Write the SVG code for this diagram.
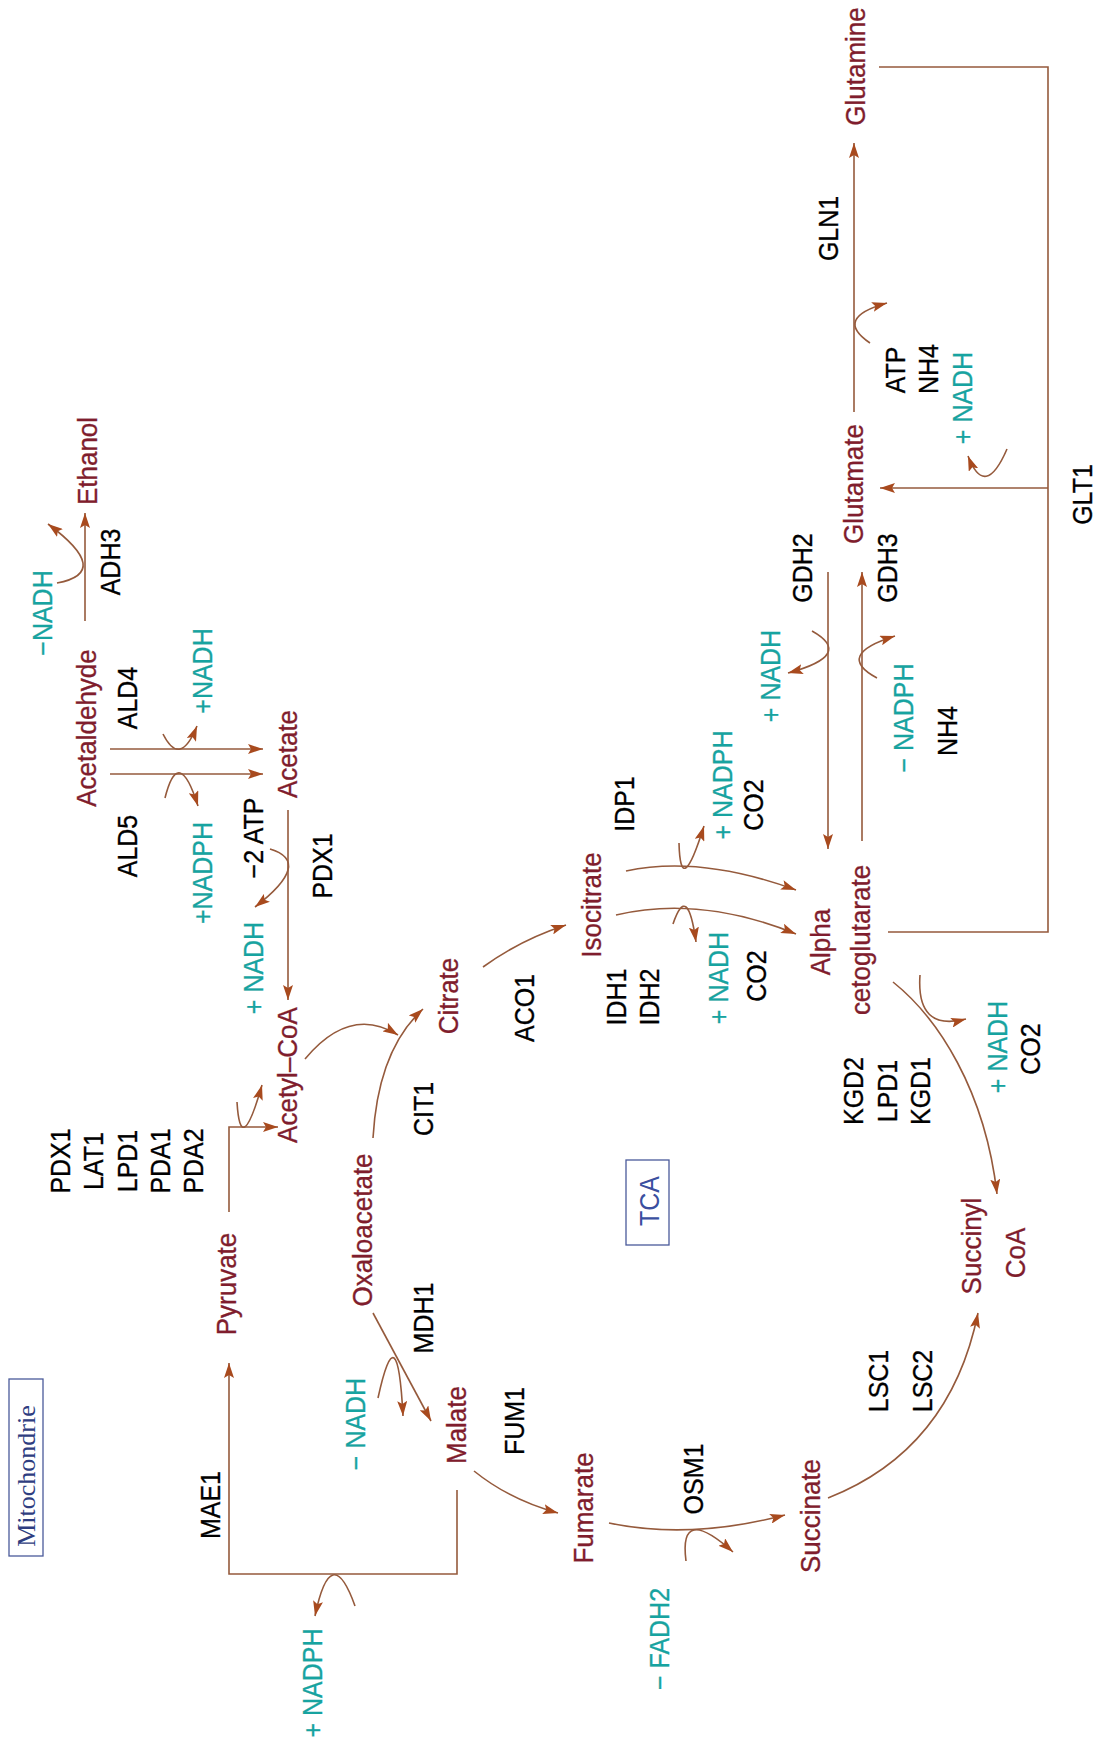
<svg xmlns="http://www.w3.org/2000/svg" width="1096" height="1744" viewBox="0 0 1096 1744">
<defs>
<style>
text{font-family:"Liberation Sans",Arial,sans-serif;text-anchor:middle}
.m{font-size:26px;fill:#7f1d2d;stroke:#7f1d2d;stroke-width:0.3}
.e{font-size:25px;fill:#000;stroke:#000;stroke-width:0.3}
.c{font-size:25px;fill:#17a3a0;stroke:#17a3a0;stroke-width:0.3}
.lbl{font-size:25px;fill:#3a4f9f}
.mito{font-family:"Liberation Serif","Times New Roman",serif;font-size:26px;fill:#2e3d80}
.box{fill:none;stroke:#4a5a9a;stroke-width:1.3}
.ln{fill:none;stroke:#955a3c;stroke-width:1.6}
.ar{fill:none;stroke:#955a3c;stroke-width:1.6;marker-end:url(#ah)}
</style>
<marker id="ah" markerUnits="userSpaceOnUse" markerWidth="16" markerHeight="10" refX="15" refY="5" orient="auto">
<path d="M0,0 L15,5 L0,10 L3,5 z" fill="#a84a1e"/>
</marker>
</defs>
<rect width="1096" height="1744" fill="#fff"/>

<g id="connectors">
<path class="ar" d="M854,412 V143"/>
<path class="ar" d="M870,343 Q833,318 887,303"/>
<path class="ln" d="M879,67 H1048 V932 H888"/>
<path class="ar" d="M1048,488 H880"/>
<path class="ar" d="M1007,449 Q985,500 968,456"/>
<path class="ar" d="M828,572 V849"/>
<path class="ar" d="M862,841 V572"/>
<path class="ar" d="M812,631 Q855,655 788,673"/>
<path class="ar" d="M877,678 Q834,655 895,636"/>
<path class="ar" d="M626,871 Q700,855 796,890"/>
<path class="ar" d="M679,843 Q680.5,901 704,826"/>
<path class="ar" d="M616,915 Q700,895 796,934"/>
<path class="ar" d="M673,924 Q687.5,881 696,942"/>
<path class="ar" d="M483,967 Q520,940 566,925"/>
<path class="ar" d="M373,1138 Q378,1050 423,1009"/>
<path class="ar" d="M305,1059 Q350,1005 398,1035"/>
<path class="ar" d="M288,810 V1000"/>
<path class="ar" d="M270,849 Q313.5,862 255,907"/>
<path class="ar" d="M110,749 H263"/>
<path class="ar" d="M110,774 H263"/>
<path class="ar" d="M163,734 Q180,768 197,726"/>
<path class="ar" d="M165,798 Q178.5,744 198,806"/>
<path class="ar" d="M85,621 V513"/>
<path class="ar" d="M57,583 Q113.5,572.5 48,524"/>
<path class="ar" d="M229,1212 V1127 H278"/>
<path class="ar" d="M237,1102 Q240.5,1160 262,1085"/>
<path class="ar" d="M457,1490 V1574 H229 V1363"/>
<path class="ar" d="M355,1606 Q331,1539 315,1616"/>
<path class="ar" d="M373,1313 L431,1421"/>
<path class="ar" d="M378,1398 Q397.5,1309 403,1416"/>
<path class="ar" d="M474,1471 Q510,1500 558,1513"/>
<path class="ar" d="M609,1523 Q690,1540 785,1515"/>
<path class="ar" d="M686,1561 Q678.5,1503.5 733,1552"/>
<path class="ar" d="M828,1498 Q950,1450 978,1313"/>
<path class="ar" d="M893,982 C938,1018 985,1090 997,1194"/>
<path class="ar" d="M920,975 Q916,1032 966,1019"/>
</g>

<g id="mitochondrie"><rect class="box" x="9" y="1379" width="34" height="177"/><text class="mito" transform="translate(35,1476) rotate(-90)">Mitochondrie</text></g>
<g id="tca"><rect class="box" x="626" y="1160" width="43" height="85"/><text class="lbl" transform="translate(659,1201) rotate(-90) scale(1,1.08)">TCA</text></g>

<g id="glutamine"><text class="m" transform="translate(865,66.5) rotate(-90) scale(1,1.08)">Glutamine</text></g>
<g id="glutamate"><text class="m" transform="translate(863,484) rotate(-90) scale(1,1.08)">Glutamate</text></g>
<g id="alpha"><text class="m" transform="translate(830,942) rotate(-90) scale(1,1.08)">Alpha</text><text class="m" transform="translate(870,940) rotate(-90) scale(1,1.08)">cetoglutarate</text></g>
<g id="isocitrate"><text class="m" transform="translate(601,905) rotate(-90) scale(1,1.08)">Isocitrate</text></g>
<g id="citrate"><text class="m" transform="translate(458,996) rotate(-90) scale(1,1.08)">Citrate</text></g>
<g id="acetylcoa"><text class="m" transform="translate(297,1075) rotate(-90) scale(1,1.08)">Acetyl–CoA</text></g>
<g id="acetate"><text class="m" transform="translate(297,754) rotate(-90) scale(1,1.08)">Acetate</text></g>
<g id="acetaldehyde"><text class="m" transform="translate(96,728) rotate(-90) scale(1,1.08)">Acetaldehyde</text></g>
<g id="ethanol"><text class="m" transform="translate(97,461) rotate(-90) scale(1,1.08)">Ethanol</text></g>
<g id="pyruvate"><text class="m" transform="translate(236,1284) rotate(-90) scale(1,1.08)">Pyruvate</text></g>
<g id="oxaloacetate"><text class="m" transform="translate(372,1230) rotate(-90) scale(1,1.08)">Oxaloacetate</text></g>
<g id="malate"><text class="m" transform="translate(466,1425) rotate(-90) scale(1,1.08)">Malate</text></g>
<g id="fumarate"><text class="m" transform="translate(593,1508) rotate(-90) scale(1,1.08)">Fumarate</text></g>
<g id="succinate"><text class="m" transform="translate(820,1516) rotate(-90) scale(1,1.08)">Succinate</text></g>
<g id="succinylcoa"><text class="m" transform="translate(981,1246) rotate(-90) scale(1,1.08)">Succinyl</text><text class="m" transform="translate(1025,1253) rotate(-90) scale(1,1.08)">CoA</text></g>

<g id="enzymes">
<text class="e" transform="translate(838,228.5) rotate(-90) scale(1,1.08)">GLN1</text>
<text class="e" transform="translate(1092,494.5) rotate(-90) scale(1,1.08)">GLT1</text>
<text class="e" transform="translate(812,568) rotate(-90) scale(1,1.08)">GDH2</text>
<text class="e" transform="translate(897,568) rotate(-90) scale(1,1.08)">GDH3</text>
<text class="e" transform="translate(905,370) rotate(-90) scale(1,1.08)">ATP</text>
<text class="e" transform="translate(938,369) rotate(-90) scale(1,1.08)">NH4</text>
<text class="e" transform="translate(957,731) rotate(-90) scale(1,1.08)">NH4</text>
<text class="e" transform="translate(634,804) rotate(-90) scale(1,1.08)">IDP1</text>
<text class="e" transform="translate(763,805) rotate(-90) scale(1,1.08)">CO2</text>
<text class="e" transform="translate(626,997) rotate(-90) scale(1,1.08)">IDH1</text>
<text class="e" transform="translate(659,997) rotate(-90) scale(1,1.08)">IDH2</text>
<text class="e" transform="translate(766,976) rotate(-90) scale(1,1.08)">CO2</text>
<text class="e" transform="translate(534,1008) rotate(-90) scale(1,1.08)">ACO1</text>
<text class="e" transform="translate(433,1109) rotate(-90) scale(1,1.08)">CIT1</text>
<text class="e" transform="translate(433,1318) rotate(-90) scale(1,1.08)">MDH1</text>
<text class="e" transform="translate(524,1421) rotate(-90) scale(1,1.08)">FUM1</text>
<text class="e" transform="translate(703,1479) rotate(-90) scale(1,1.08)">OSM1</text>
<text class="e" transform="translate(888,1381) rotate(-90) scale(1,1.08)">LSC1</text>
<text class="e" transform="translate(932,1381) rotate(-90) scale(1,1.08)">LSC2</text>
<text class="e" transform="translate(863,1091) rotate(-90) scale(1,1.08)">KGD2</text>
<text class="e" transform="translate(897,1091) rotate(-90) scale(1,1.08)">LPD1</text>
<text class="e" transform="translate(930,1091) rotate(-90) scale(1,1.08)">KGD1</text>
<text class="e" transform="translate(1040,1049) rotate(-90) scale(1,1.08)">CO2</text>
<text class="e" transform="translate(220,1505) rotate(-90) scale(1,1.08)">MAE1</text>
<text class="e" transform="translate(70,1161) rotate(-90) scale(1,1.08)">PDX1</text>
<text class="e" transform="translate(103,1161) rotate(-90) scale(1,1.08)">LAT1</text>
<text class="e" transform="translate(137,1161) rotate(-90) scale(1,1.08)">LPD1</text>
<text class="e" transform="translate(170,1161) rotate(-90) scale(1,1.08)">PDA1</text>
<text class="e" transform="translate(203,1161) rotate(-90) scale(1,1.08)">PDA2</text>
<text class="e" transform="translate(137,698) rotate(-90) scale(1,1.08)">ALD4</text>
<text class="e" transform="translate(137,846) rotate(-90) scale(1,1.08)">ALD5</text>
<text class="e" transform="translate(120,562) rotate(-90) scale(1,1.08)">ADH3</text>
<text class="e" transform="translate(332,866) rotate(-90) scale(1,1.08)">PDX1</text>
<text class="e" transform="translate(263,838) rotate(-90) scale(1,1.08)">−2 ATP</text>
</g>

<g id="cofactors">
<text class="c" transform="translate(972,398) rotate(-90) scale(1,1.08)">+ NADH</text>
<text class="c" transform="translate(780,676) rotate(-90) scale(1,1.08)">+ NADH</text>
<text class="c" transform="translate(913,718) rotate(-90) scale(1,1.08)">− NADPH</text>
<text class="c" transform="translate(732,785) rotate(-90) scale(1,1.08)">+ NADPH</text>
<text class="c" transform="translate(728,978) rotate(-90) scale(1,1.08)">+ NADH</text>
<text class="c" transform="translate(1007,1047) rotate(-90) scale(1,1.08)">+ NADH</text>
<text class="c" transform="translate(669,1639) rotate(-90) scale(1,1.08)">− FADH2</text>
<text class="c" transform="translate(365,1424) rotate(-90) scale(1,1.08)">− NADH</text>
<text class="c" transform="translate(322,1683) rotate(-90) scale(1,1.08)">+ NADPH</text>
<text class="c" transform="translate(263,968) rotate(-90) scale(1,1.08)">+ NADH</text>
<text class="c" transform="translate(212,873) rotate(-90) scale(1,1.08)">+NADPH</text>
<text class="c" transform="translate(212,671) rotate(-90) scale(1,1.08)">+NADH</text>
<text class="c" transform="translate(52,613) rotate(-90) scale(1,1.08)">−NADH</text>
</g>
</svg>
